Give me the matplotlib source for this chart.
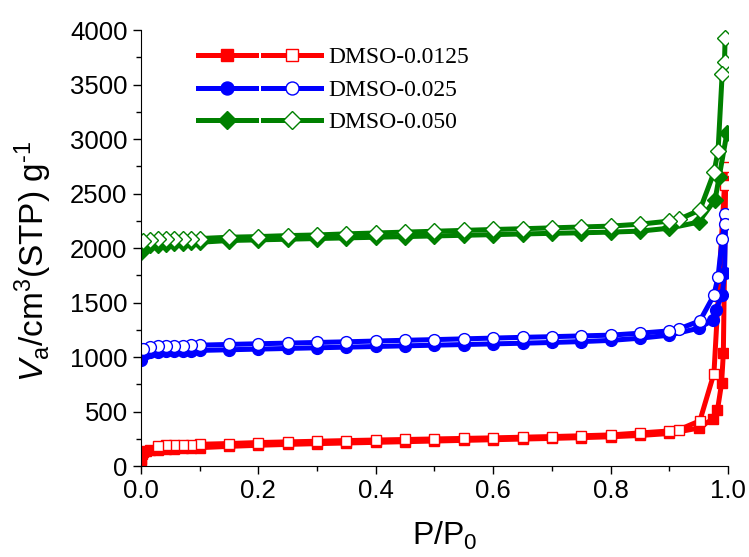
import matplotlib
matplotlib.use("Agg")
import matplotlib.pyplot as plt
from matplotlib.legend_handler import HandlerTuple
from matplotlib.ticker import MultipleLocator

plt.rcParams['font.family'] = ['Liberation Sans', 'DejaVu Sans']
plt.rcParams['mathtext.fontset'] = 'custom'
plt.rcParams['mathtext.rm'] = 'Liberation Sans'
plt.rcParams['mathtext.it'] = 'Liberation Sans:italic'

labels = ['DMSO-0.0125', 'DMSO-0.025', 'DMSO-0.050']
colors = ['#ff0000', '#0000ff', '#008000']
markers = ['s', 'o', 'D']
msizes = [7.5, 8.5, 8.5]

# adsorption branch, common relative pressures
p_ads = [0.0002, 0.0006, 0.0015, 0.004, 0.008, 0.015, 0.029, 0.043, 0.057, 0.071, 0.085,
         0.1, 0.15, 0.2, 0.25, 0.3, 0.35, 0.4, 0.45, 0.5, 0.55, 0.6, 0.65, 0.7, 0.75,
         0.8, 0.85, 0.9, 0.95]
red_ads = [15, 70, 110, 130, 140, 146, 152, 157, 161, 164, 167, 170, 182, 192, 200, 207,
           213, 219, 225, 231, 237, 243, 249, 255, 262, 270, 282, 300, 350]
blue_ads = [970, 995, 1015, 1030, 1040, 1047, 1051, 1054, 1057, 1059, 1061, 1062, 1068,
            1074, 1080, 1086, 1092, 1098, 1104, 1110, 1116, 1122, 1128, 1135, 1143, 1154,
            1174, 1202, 1266]
green_ads = [1963, 1985, 2000, 2012, 2020, 2026, 2032, 2038, 2044, 2048, 2052, 2054, 2070,
             2076, 2082, 2088, 2094, 2100, 2106, 2112, 2118, 2124, 2130, 2136, 2141, 2147,
             2156, 2183, 2239]
# adsorption tails near saturation
red_tail_p = [0.975, 0.982, 0.989, 0.992, 0.996]
red_tail = [437, 514, 759, 1034, 2620]
blue_tail_p = [0.974, 0.979, 0.990, 0.994, 0.996]
blue_tail = [1339, 1431, 1569, 1768, 2300]
green_tail_p = [0.978, 0.985, 0.998]
green_tail = [2446, 2657, 3052]

# desorption branch
p_des_red = [0.996, 0.994, 0.976, 0.952, 0.917, 0.9, 0.85, 0.8, 0.75, 0.7, 0.65, 0.6,
             0.55, 0.5, 0.45, 0.4, 0.35, 0.3, 0.25, 0.2, 0.15, 0.1, 0.085, 0.071, 0.057,
             0.043, 0.029]
red_des = [2740, 2578, 850, 416, 336, 323, 305, 287, 279, 272, 266, 260, 255, 250, 245,
           240, 235, 229, 223, 217, 208, 201, 198, 196, 193, 190, 188]
p_des = [0.995, 0.994, 0.99, 0.983, 0.976, 0.952, 0.917, 0.9, 0.85, 0.8, 0.75, 0.7, 0.65,
         0.6, 0.55, 0.5, 0.45, 0.4, 0.35, 0.3, 0.25, 0.2, 0.15, 0.1, 0.085, 0.071, 0.057,
         0.043, 0.029, 0.015, 0.003]
blue_des = [2312, 2220, 2080, 1737, 1569, 1333, 1260, 1241, 1220, 1202, 1195, 1188, 1182,
            1175, 1168, 1161, 1155, 1148, 1141, 1135, 1129, 1123, 1117, 1110, 1108, 1106,
            1104, 1102, 1100, 1093, 1078]
green_des = [3924, 3704, 3596, 2890, 2694, 2349, 2266, 2248, 2220, 2202, 2194, 2186, 2178,
             2171, 2163, 2155, 2147, 2139, 2131, 2121, 2115, 2106, 2100, 2088, 2087, 2086,
             2085, 2084, 2083, 2079, 2070]

ads = [(p_ads + red_tail_p, red_ads + red_tail),
       (p_ads + blue_tail_p, blue_ads + blue_tail),
       (p_ads + green_tail_p, green_ads + green_tail)]
des = [(p_des_red, red_des), (p_des, blue_des), (p_des, green_des)]

fig = plt.figure(figsize=(7.49, 5.57), dpi=100)
ax = fig.add_axes([0.188, 0.163, 0.784, 0.783])

handles = []
for i in range(3):
    la, = ax.plot(ads[i][0], ads[i][1], color=colors[i], lw=3.6, marker=markers[i],
                  ms=msizes[i], mfc=colors[i], mec=colors[i], mew=1)
    ld, = ax.plot(des[i][0], des[i][1], color=colors[i], lw=3.6, marker=markers[i],
                  ms=msizes[i], mfc='white', mec=colors[i], mew=1)
    handles.append((la, ld))

ax.set_xlim(0, 1.0)
ax.set_ylim(0, 4000)
ax.xaxis.set_major_locator(MultipleLocator(0.2))
ax.xaxis.set_minor_locator(MultipleLocator(0.1))
ax.yaxis.set_major_locator(MultipleLocator(500))
ax.yaxis.set_minor_locator(MultipleLocator(250))
ax.set_xticklabels([f'{v:.1f}' for v in ax.get_xticks()])
ax.tick_params(which='major', direction='out', length=6, width=1, labelsize=18.5)
ax.tick_params(which='minor', direction='out', length=3.5, width=1)
for s in ['top', 'right']:
    ax.spines[s].set_visible(False)

ax.set_xlabel(r'P/P$_0$', fontsize=23)
ax.xaxis.set_label_coords(0.518, -0.122)
ax.set_ylabel(r'$V_\mathrm{a}$/cm$^3$(STP) g$^{\text{-}1}$', fontsize=24)
ax.yaxis.set_label_coords(-0.147, 0.47)

ax.legend(handles, labels, handler_map={tuple: HandlerTuple(ndivide=None, pad=0.3)},
          loc='upper left', bbox_to_anchor=(0.097, 0.962), frameon=False,
          handlelength=5.2, handletextpad=0.35, labelspacing=0.47, borderpad=0,
          borderaxespad=0, numpoints=1, markerscale=1.1,
          prop={'family': 'Liberation Serif', 'size': 17})

fig.savefig('out.png', dpi=100)
